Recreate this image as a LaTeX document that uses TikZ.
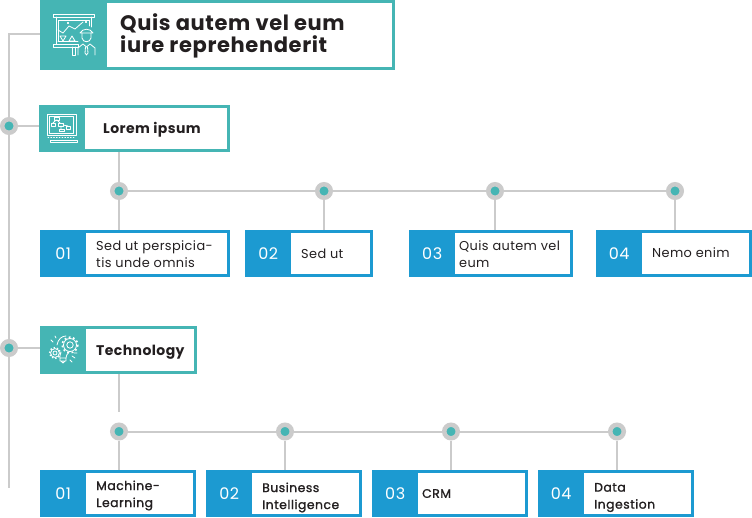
\documentclass[tikz,border=0pt]{standalone}
\usepackage{fontspec}
\setmainfont[LetterSpace=3]{Poppins}
\newfontfamily\mediumfont[FakeBold=1.2,LetterSpace=4]{Poppins}
\usetikzlibrary{positioning}

\definecolor{head-teal}{HTML}{45b5b4}
\definecolor{item-blue}{HTML}{1c9ad1}
\definecolor{line-grey}{HTML}{cbcbcb}
\definecolor{text-dark}{HTML}{231f20}

\tikzstyle{head-box}=[anchor=north west, draw=head-teal, fill=white, line width=3pt, inner sep=0pt]
\tikzstyle{item-box}=[anchor=north west, draw=item-blue, fill=white, line width=3pt, inner sep=0pt, minimum height=44pt]
\tikzstyle{head-tab}=[anchor=north west, fill=head-teal, inner sep=0pt]
\tikzstyle{item-tab}=[anchor=north west, fill=item-blue, inner sep=0pt, minimum width=46pt, minimum height=47pt,
      text=white, font=\fontsize{16}{16}\selectfont]
\tikzstyle{dot-point}=[circle, draw=line-grey, fill=head-teal, line width=4.5pt, inner sep=0pt, minimum size=13.5pt]
\tikzstyle{item-text}=[anchor=west, inner sep=0pt, align=left, text=text-dark, font=\fontsize{12.9}{17.5}\selectfont]
\tikzstyle{tech-text}=[anchor=west, inner sep=0pt, align=left, text=text-dark, font=\fontsize{12.4}{17}\selectfont\mediumfont]
\tikzstyle{link-line}=[draw=line-grey, line width=2pt]
\tikzstyle{icon-line}=[draw=white, line width=0.8pt, line join=round, line cap=round]

\begin{document}
\begin{tikzpicture}[x=1pt, y=-1pt]
      \useasboundingbox (0,0) rectangle (752,518);

      % header boxes
      \node (title-box) at (40,0) [head-box, minimum width=352pt, minimum height=67pt] {};
      \node (title-tab) at (40,0) [head-tab, minimum width=67pt, minimum height=70pt] {};
      \node (title-text) at (120,36) [anchor=west, inner sep=0pt, align=left, text=text-dark,
            font=\fontsize{21}{22}\selectfont\bfseries] {Quis autem vel eum\\iure reprehenderit};
      \node (lorem-box) at (39,105) [head-box, minimum width=188pt, minimum height=44pt] {};
      \node (lorem-tab) at (39,105) [head-tab, minimum width=46pt, minimum height=47pt] {};
      \node (lorem-text) at (103,130) [anchor=west, inner sep=0pt, text=text-dark,
            font=\fontsize{14}{16}\selectfont\bfseries] {Lorem ipsum};
      \node (tech-box) at (40,326) [head-box, minimum width=154pt, minimum height=45pt] {};
      \node (tech-tab) at (40,326) [head-tab, minimum width=46pt, minimum height=48pt] {};
      \node (tech-head) at (96,352) [anchor=west, inner sep=0pt, text=text-dark,
            font=\fontsize{14}{16}\selectfont\bfseries] {Technology};

      % first row
      \node (lorem-box1) at (40,230) [item-box, minimum width=187pt] {};
      \node (lorem-tab1) at (40,230) [item-tab] {01};
      \node (lorem-text1) at (96,254) [item-text] {Sed ut perspicia-\\tis unde omnis};
      \node (lorem-box2) at (245,230) [item-box, minimum width=125pt] {};
      \node (lorem-tab2) at (245,230) [item-tab] {02};
      \node (lorem-text2) at (301,253.5) [item-text] {Sed ut};
      \node (lorem-box3) at (409,230) [item-box, minimum width=161pt] {};
      \node (lorem-tab3) at (409,230) [item-tab] {03};
      \node (lorem-text3) at (459,254) [item-text] {Quis autem vel\\eum};
      \node (lorem-box4) at (596,230) [item-box, minimum width=153pt] {};
      \node (lorem-tab4) at (596,230) [item-tab] {04};
      \node (lorem-text4) at (652,253) [item-text] {Nemo enim};

      % second row
      \node (tech-box1) at (40,470) [item-box, minimum width=153pt] {};
      \node (tech-tab1) at (40,470) [item-tab] {01};
      \node (tech-text1) at (96,495.5) [tech-text] {Machine-\\Learning};
      \node (tech-box2) at (206,470) [item-box, minimum width=153pt] {};
      \node (tech-tab2) at (206,470) [item-tab] {02};
      \node (tech-text2) at (262,497.5) [tech-text] {Business\\Intelligence};
      \node (tech-box3) at (372,470) [item-box, minimum width=153pt] {};
      \node (tech-tab3) at (372,470) [item-tab] {03};
      \node (tech-text3) at (422,493.5) [tech-text] {CRM};
      \node (tech-box4) at (538,470) [item-box, minimum width=153pt] {};
      \node (tech-tab4) at (538,470) [item-tab] {04};
      \node (tech-text4) at (594,497.5) [tech-text] {Data\\Ingestion};

      % dots
      \node (main-dot1) at (9,126) [dot-point] {};
      \node (main-dot2) at (9,348) [dot-point] {};
      \node (lorem-dot1) at (119,191) [dot-point] {};
      \node (lorem-dot2) at (324,191) [dot-point] {};
      \node (lorem-dot3) at (495,191) [dot-point] {};
      \node (lorem-dot4) at (675,191) [dot-point] {};
      \node (tech-dot1) at (119,431.5) [dot-point] {};
      \node (tech-dot2) at (285,431.5) [dot-point] {};
      \node (tech-dot3) at (451,431.5) [dot-point] {};
      \node (tech-dot4) at (617,431.5) [dot-point] {};
      \coordinate (main-corner) at (9,34);
      \coordinate (main-end) at (9,488);
      \coordinate (tech-end) at (119,412);

      % connectors
      \draw [link-line] (title-tab.west |- main-corner) -- (main-corner) -- (main-dot1);
      \draw [link-line] (main-dot1) -- (main-dot2);
      \draw [link-line] (main-dot2) -- (main-end);
      \draw [link-line] (main-dot1) -- (main-dot1 -| lorem-tab.west);
      \draw [link-line] (main-dot2) -- (main-dot2 -| tech-tab.west);
      \draw [link-line] (lorem-dot1 |- lorem-box.south) -- (lorem-dot1);
      \draw [link-line] (lorem-dot1) -- (lorem-dot2);
      \draw [link-line] (lorem-dot2) -- (lorem-dot3);
      \draw [link-line] (lorem-dot3) -- (lorem-dot4);
      \draw [link-line] (lorem-dot1) -- (lorem-dot1 |- lorem-tab1.north);
      \draw [link-line] (lorem-dot2) -- (lorem-dot2 |- lorem-tab2.north);
      \draw [link-line] (lorem-dot3) -- (lorem-dot3 |- lorem-tab3.north);
      \draw [link-line] (lorem-dot4) -- (lorem-dot4 |- lorem-tab4.north);
      \draw [link-line] (tech-end |- tech-box.south) -- (tech-end);
      \draw [link-line] (tech-dot1) -- (tech-dot2);
      \draw [link-line] (tech-dot2) -- (tech-dot3);
      \draw [link-line] (tech-dot3) -- (tech-dot4);
      \draw [link-line] (tech-dot1) -- (tech-dot1 |- tech-tab1.north);
      \draw [link-line] (tech-dot2) -- (tech-dot2 |- tech-tab2.north);
      \draw [link-line] (tech-dot3) -- (tech-dot3 |- tech-tab3.north);
      \draw [link-line] (tech-dot4) -- (tech-dot4 |- tech-tab4.north);

      % icon: presenter at a board
      \draw [icon-line] (53,14) rectangle (94.5,17);
      \draw [icon-line] (53,44) rectangle (78,47);
      \draw [icon-line] (56,44) -- (56,17) (91,17) -- (91,27);
      \draw [icon-line] (58,41) -- (58,20) -- (89,20) -- (89,26);
      \draw [icon-line] (58,41) -- (78,41);
      \draw [icon-line] (58,30) -- (63,33) -- (69,26) -- (75,29) -- (83,22);
      \draw [icon-line] (68,23) circle (0.7) (86,22) circle (0.7);
      \draw [icon-line] (60,36) -- (66,36) -- (63,41) -- cycle (69,41) -- (75,41) -- (72,36) -- cycle;
      \draw [icon-line] (72,47) -- (72,55) -- (75,55) -- (75,47);
      \draw [icon-line] (82,33) -- (82,38) .. controls (83,43) and (90,43) .. (91,38) -- (91,33);
      \draw [icon-line] (80,33) .. controls (83,28) and (90,28) .. (93,33) -- cycle;
      \draw [icon-line] (78,55) -- (78,48) -- (83,44) -- (86.5,47) -- (90,44) -- (95,48) -- (95,55);
      \draw [icon-line] (85.5,47) -- (85,53) -- (86.5,55) -- (88,53) -- (87.5,47);

      % icon: tablet with a flow chart
      \draw [icon-line] (47,114) rectangle (76,135);
      \draw [icon-line] (49,116) rectangle (73,133);
      \draw [icon-line] (54,117) rectangle (59,120) (51,123) rectangle (55,126) (58,123) rectangle (63,126)
            (59,129) rectangle (64,131) (66,126) rectangle (70,129);
      \draw [icon-line] (56,120) -- (53,123) (57,120) -- (60,123) (61,126) -- (61,129) (63,125) -- (68,126);
      \draw [icon-line, dotted] (48,137) -- (74,137);
      \draw [icon-line] (50,140) rectangle (77,142);

      % icon: bulb with gears
      \draw [icon-line] (60,358) .. controls (60,355) and (60,354) .. (61,352);
      \draw [icon-line] (57,345) .. controls (58,339) and (62,336) .. (66,336);
      \draw [icon-line] (66,358) .. controls (66,356) and (67,354) .. (69,352);
      \draw [icon-line] (60,358) rectangle (66,361) (61,361) -- (63,363) -- (65,361);
      \draw [icon-line] (70,345) circle (3.2) (70,345) circle (6.5);
      \draw [icon-line, line width=1.6pt, dash pattern=on 1.8pt off 2.6pt, line cap=butt] (70,345) circle (7.8);
      \draw [icon-line] (55,353) circle (2) (55,353) circle (4.4);
      \draw [icon-line, line width=1.4pt, dash pattern=on 1.4pt off 2pt, line cap=butt] (55,353) circle (5.5);
      \draw [icon-line] (51,340) -- (53,342) (55,336) -- (56,338) (72,356) -- (75,358) (70,360) -- (72,362) (74,353) -- (77,353);
\end{tikzpicture}
\end{document}
